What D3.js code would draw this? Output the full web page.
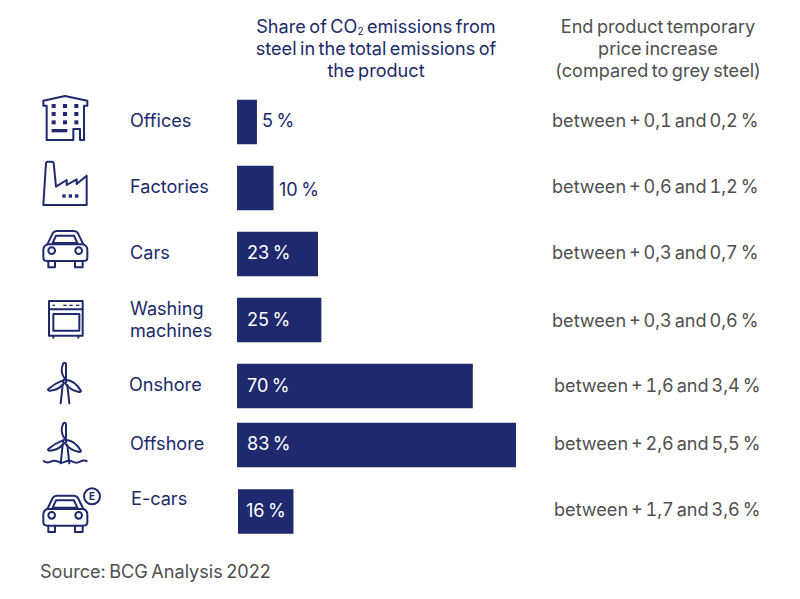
<!DOCTYPE html>
<html><head><meta charset="utf-8">
<script src="https://cdn.jsdelivr.net/npm/d3@7/dist/d3.min.js"></script>
<style>html,body{margin:0;padding:0;background:#fff}svg{display:block}text{font-family:Inter,"Open Sans",sans-serif;word-spacing:-1.6px}text.price{font-feature-settings:"tnum";word-spacing:-2px}</style>
</head><body><svg id="c" width="800" height="599"></svg>
<script>
const categories=["Offices","Factories","Cars","Washing machines","Onshore","Offshore","E-cars"];
const shareLabels=[5,10,23,25,70,83,16];
const barValues=[5,10,23.4,24.4,70,83,16];
const priceRanges=["between + 0,1 and 0,2 %","between + 0,6 and 1,2 %","between + 0,3 and 0,7 %","between + 0,3 and 0,6 %","between + 1,6 and 3,4 %","between + 2,6 and 5,5 %","between + 1,7 and 3,6 %"];
const headerShare=["Share of CO|2| emissions from","steel in the total emissions of","the product"];
const headerPrice=["End product temporary","price increase","(compared to grey steel)"];
const sourceText="Source: BCG Analysis 2022";

const NAVY="#1f2a6e",INK="#1b2a6b",GREY="#4f4f4f",FS=18.1;
const svg=d3.select("#c");
const x=d3.scaleLinear().domain([-1,83]).range([237,516]);
const y=d3.scaleOrdinal().domain(categories).range([122,188,254,320,386,445,511.5]);
const barH=44.5;
const labelDX=[130,130,130,130,129,130,131], labelDY=[-1,-1,-1,0,-1,-1,-13];
const valueDY=[0,3,0,1,1,0,1], priceX=[552,552,552,552,554,554,554], priceDY=[0,0,0,2,1,0,0];

const t=(s,px,py,col,anchor)=>svg.append("text").attr("x",px).attr("y",py).attr("fill",col).attr("font-size",FS).attr("text-anchor",anchor||"start").text(s);

headerShare.forEach((line,i)=>{
  const parts=line.split("|");
  const el=t("",376,33+i*22,INK,"middle");
  parts.forEach((p,k)=>{
    const ts=el.append("tspan").text(p);
    if(k==1) ts.attr("font-size",10).attr("dy",2);
    if(k==2) ts.attr("dy",-2);
  });
});
headerPrice.forEach((line,i)=>t(line,658,33+i*22,GREY,"middle"));

categories.forEach((c,i)=>{
  const cy=y(c)+labelDY[i]+6;
  if(c==="Washing machines"){
    t("Washing",labelDX[i],cy-11,INK); t("machines",labelDX[i],cy+11,INK);
  } else t(c,labelDX[i],cy,INK);
});

svg.selectAll("rect.bar").data(categories).join("rect").attr("class","bar")
  .attr("x",(d,i)=>i==6?x(-1)+1:x(-1))
  .attr("y",d=>y(d)-barH/2).attr("height",barH)
  .attr("width",(d,i)=>x(barValues[i])-x(-1)-(i==6?1:0)).attr("fill",NAVY);

categories.forEach((c,i)=>{
  const inside=shareLabels[i]>=16;
  const px=i==0?262:i==1?279:(i==6?246:247);
  t(shareLabels[i]+" %",px,y(c)+valueDY[i]+4.5,inside?"#fff":INK);
  t(priceRanges[i],priceX[i],y(c)+priceDY[i]+4.5,GREY).attr("class","price");
});
t(sourceText,40,578,GREY);

// icons traced in 3x coordinates
function icon(ox,oy){return svg.append("g").attr("transform",`translate(${ox},${oy}) scale(${1/3})`).attr("fill","none").attr("stroke",NAVY).attr("stroke-width",6).attr("stroke-linejoin","round").attr("stroke-linecap","round");}
const sq=(g,x0,y0,w,h)=>g.append("rect").attr("x",x0).attr("y",y0).attr("width",w).attr("height",h).attr("fill",NAVY).attr("stroke","none");
// office
let g=icon(30,85);
g.append("path").attr("d","M50 62H40V47L105 33L172 47V62H162V165H150V132H130V165H50V62");
[65,99,133].forEach(a=>[57,81,106].forEach(b=>sq(g,a,b,12,12)));
sq(g,65,132,47,10);
// factory
g=icon(30,85);
g.append("path").attr("d","M40 360L48 234Q49 230 53 230H66Q70 230 71 234L78 305L110 285V300L140 283V297L170 272V360Z");
[97,116,135].forEach(a=>sq(g,a,328,10,10));
// car
function car(g){
  g.append("path").attr("d","M52 478L68 445Q72 438 80 438H132Q140 438 144 445L160 478");
  g.append("path").attr("d","M52 478Q40 482 40 495V518Q40 528 52 528H160Q172 528 172 518V495Q172 482 160 478Z");
  g.append("path").attr("d","M68 474L78 452H132L142 474Z");
  g.append("circle").attr("cx",65).attr("cy",497).attr("r",10);
  g.append("circle").attr("cx",146).attr("cy",497).attr("r",10);
  g.append("path").attr("d","M55 528V547H75V528M135 528V547H158V528");
}
car(icon(30,85));
// oven
g=icon(30,290);
g.append("rect").attr("x",57).attr("y",33).attr("width",101).attr("height",104);
g.append("path").attr("d","M57 58H158M70 137V143M145 137V143");
g.append("rect").attr("x",70).attr("y",72).attr("width",78).attr("height",50);
[[68,7],[100,10],[118,10],[138,10]].forEach(d=>sq(g,d[0],44,d[1],4));
// turbines
function turbine(g){
  g.append("path").attr("d","M104 265Q88 245 100 220Q106 215 108 222L108 265");
  g.append("path").attr("d","M97 272Q75 280 55 297Q52 302 60 302Q85 300 100 282");
  g.append("path").attr("d","M110 270Q135 272 153 303Q150 308 145 305Q120 300 107 282");
  g.append("path").attr("d","M98 285L92 340M112 285L118 340");
  g.append("circle").attr("cx",104).attr("cy",274).attr("r",5);
}
turbine(icon(30,290));
turbine(icon(30,350));
g=icon(30,290);
g.append("path").attr("d","M41 513Q51 521 62 515T84 515T106 515T128 515T150 515T170 513");
// e-car
g=icon(30,349.7);
car(g);
g=icon(30,290);
g.append("circle").attr("cx",186).attr("cy",619).attr("r",24);
svg.append("text").attr("x",92).attr("y",500).attr("text-anchor","middle").attr("font-size",10).attr("font-weight",700).attr("fill",NAVY).text("E");
</script></body></html>
